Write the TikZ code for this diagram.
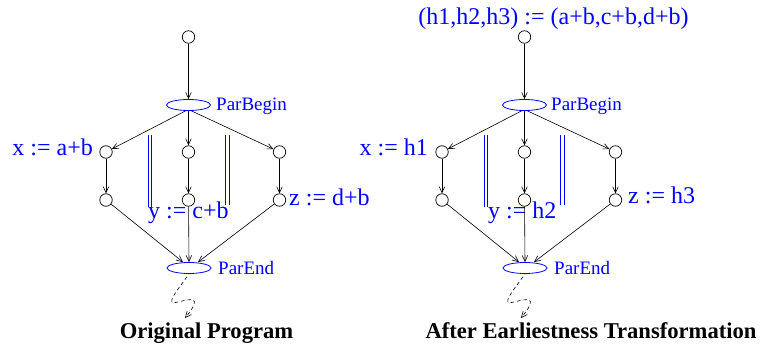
\documentclass[tikz,border=0pt]{standalone}
\usepackage{fontspec}
\setmainfont{Liberation Serif}
\usetikzlibrary{arrows.meta,shapes.geometric}
\begin{document}
\begin{tikzpicture}[x=1pt,y=-1pt,
  vtx/.style={circle,draw=black,line width=0.7pt,minimum size=12.5pt,inner sep=0},
  parnode/.style={ellipse,draw=blue,line width=0.8pt,minimum width=44pt,minimum height=11pt,inner sep=0},
  edge/.style={draw=black,line width=0.6pt,-{Straight Barb[length=6pt,width=5.5pt]}},
  squig/.style={edge,dash pattern=on 3.5pt off 3pt,dash phase=3pt},
  lbl/.style={text=blue,font=\fontsize{24}{24}\selectfont,inner sep=0},
  plbl/.style={text=blue,font=\fontsize{19}{19}\selectfont,inner sep=0,anchor=base west},
  ttl/.style={font=\fontsize{22.6}{24}\selectfont\bfseries,inner sep=0,anchor=base},
  bar/.style={draw=blue,line width=0.8pt}]
\useasboundingbox (0,0) rectangle (760,345);

% ---------- left: Original Program ----------
\node[vtx] (t1) at (188.5,37) {};
\node[parnode] (pb1) at (188.5,105) {};
\node[plbl] (pbl1) at (216,110) {ParBegin};
\node[vtx] (a1) at (106,152) {};
\node[vtx] (b1) at (188.5,152) {};
\node[vtx] (c1) at (279.5,152) {};
\node[vtx] (d1) at (106,200) {};
\node[vtx] (e1) at (188.5,200) {};
\node[vtx] (f1) at (279.5,200) {};
\node[parnode] (pe1) at (189,268) {};
\node[plbl] (pel1) at (218,274) {ParEnd};
\coordinate (s1) at (185,318);

\node[lbl,anchor=base east] (lx1) at (93,155.5) {x := a+b};
\node[lbl,anchor=base west] (lz1) at (289,205) {z := d+b};
\node[lbl,anchor=base west] (ly1) at (148,218.5) {y := c+b};

\draw[bar] (148.3,135) -- (148.3,207);
\draw[bar] (151.7,135) -- (151.7,207);
\draw[bar] (225.8,135) -- (225.8,205);
\draw[bar] (229.2,135) -- (229.2,205);

\draw[edge] (t1) -- (pb1);
\draw[edge] ([xshift=-3pt]pb1.south) -- (a1);
\draw[edge] (pb1.south) -- (b1);
\draw[edge] ([xshift=3pt]pb1.south) -- (c1);
\draw[edge] (a1) -- (d1);
\draw[edge] (b1) -- (e1);
\draw[edge] (c1) -- (f1);
\draw[edge] (d1) -- ([xshift=-6pt]pe1.north);
\draw[edge] (e1) -- (pe1.north);
\draw[edge] (f1) -- ([xshift=9pt]pe1.north);
\draw[squig] (pe1.south) .. controls (178,290) and (163,306) .. (178,302)
  .. controls (190,299) and (204,295) .. (s1);

\node[ttl] (ttl1) at (206.5,338) {Original Program};

% ---------- right: After Earliestness Transformation ----------
\node[lbl,anchor=base] (hd) at (553.5,25) {(h1,h2,h3) := (a+b,c+b,d+b)};
\node[vtx] (t2) at (524.5,37) {};
\node[parnode] (pb2) at (524.5,105) {};
\node[plbl] (pbl2) at (551,110) {ParBegin};
\node[vtx] (a2) at (442,152) {};
\node[vtx] (b2) at (524.5,152) {};
\node[vtx] (c2) at (615.5,152) {};
\node[vtx] (d2) at (442,200) {};
\node[vtx] (e2) at (524.5,200) {};
\node[vtx] (f2) at (615.5,200) {};
\node[parnode] (pe2) at (525,268) {};
\node[plbl] (pel2) at (554,274) {ParEnd};
\coordinate (s2) at (521,318);

\node[lbl,anchor=base east] (lx2) at (428,155.5) {x := h1};
\node[lbl,anchor=base west] (lz2) at (628,203) {z := h3};
\node[lbl,anchor=base west] (ly2) at (488,218.5) {y := h2};

\draw[bar] (484.3,135) -- (484.3,207);
\draw[bar] (487.7,135) -- (487.7,207);
\draw[bar] (560.8,135) -- (560.8,205);
\draw[bar] (564.2,135) -- (564.2,205);

\draw[edge] (t2) -- (pb2);
\draw[edge] ([xshift=-3pt]pb2.south) -- (a2);
\draw[edge] (pb2.south) -- (b2);
\draw[edge] ([xshift=3pt]pb2.south) -- (c2);
\draw[edge] (a2) -- (d2);
\draw[edge] (b2) -- (e2);
\draw[edge] (c2) -- (f2);
\draw[edge] (d2) -- ([xshift=-6pt]pe2.north);
\draw[edge] (e2) -- (pe2.north);
\draw[edge] (f2) -- ([xshift=9pt]pe2.north);
\draw[squig] (pe2.south) .. controls (514,290) and (499,306) .. (514,302)
  .. controls (526,299) and (540,295) .. (s2);

\node[ttl] (ttl2) at (591,338) {After Earliestness Transformation};
\end{tikzpicture}
\end{document}
